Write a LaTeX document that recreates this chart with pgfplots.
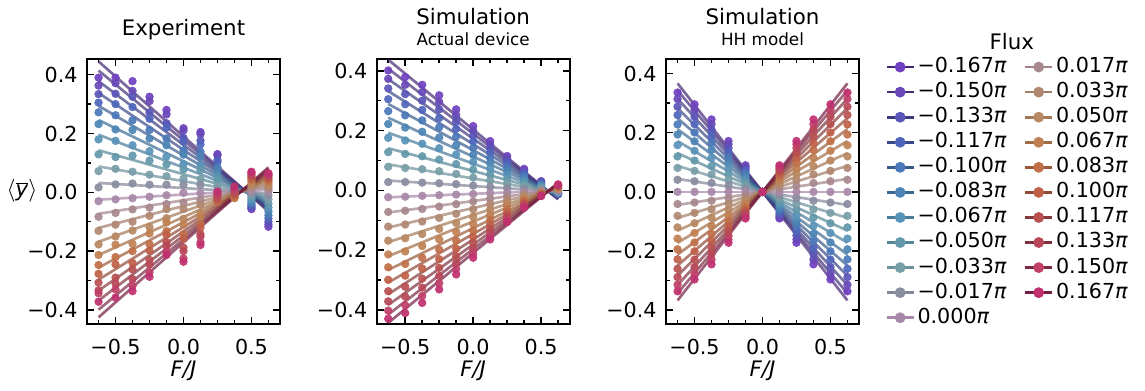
\documentclass[border=0pt]{standalone}
\usepackage{fontspec}
\setmainfont{DejaVu Sans}
\usepackage{pgfplots}
\usepackage{pgfplotstable}
\pgfplotsset{compat=1.18}

\definecolor{mk0}{HTML}{7040C0}
\definecolor{mk1}{HTML}{6848B8}
\definecolor{mk2}{HTML}{5A55B8}
\definecolor{mk3}{HTML}{4F65BC}
\definecolor{mk4}{HTML}{4A78B8}
\definecolor{mk5}{HTML}{4C85B5}
\definecolor{mk6}{HTML}{5893B8}
\definecolor{mk7}{HTML}{6298AA}
\definecolor{mk8}{HTML}{789EA8}
\definecolor{mk9}{HTML}{8A8CA0}
\definecolor{mk10}{HTML}{A888A8}
\definecolor{mk11}{HTML}{A8888F}
\definecolor{mk12}{HTML}{B08872}
\definecolor{mk13}{HTML}{B88862}
\definecolor{mk14}{HTML}{C08052}
\definecolor{mk15}{HTML}{C07048}
\definecolor{mk16}{HTML}{C06048}
\definecolor{mk17}{HTML}{B85050}
\definecolor{mk18}{HTML}{B84858}
\definecolor{mk19}{HTML}{C04068}
\definecolor{mk20}{HTML}{C03070}
\colorlet{ln0}{mk0!60!black}
\colorlet{ln1}{mk1!64!black}
\colorlet{ln2}{mk2!68!black}
\colorlet{ln3}{mk3!72!black}
\colorlet{ln4}{mk4!76!black}
\colorlet{ln5}{mk5!80!black}
\colorlet{ln6}{mk6!84!black}
\colorlet{ln7}{mk7!88!black}
\colorlet{ln8}{mk8!92!black}
\colorlet{ln9}{mk9!96!black}
\colorlet{ln10}{mk10}
\colorlet{ln11}{mk11!96!black}
\colorlet{ln12}{mk12!92!black}
\colorlet{ln13}{mk13!88!black}
\colorlet{ln14}{mk14!84!black}
\colorlet{ln15}{mk15!80!black}
\colorlet{ln16}{mk16!76!black}
\colorlet{ln17}{mk17!72!black}
\colorlet{ln18}{mk18!68!black}
\colorlet{ln19}{mk19!64!black}
\colorlet{ln20}{mk20!60!black}

% Experiment
\pgfplotstableread{
x c0 c1 c2 c3 c4 c5 c6 c7 c8 c9 c10 c11 c12 c13 c14 c15 c16 c17 c18 c19 c20
-0.625 0.390 0.363 0.334 0.305 0.272 0.232 0.180 0.129 0.072 0.017 -0.030 -0.083 -0.131 -0.177 -0.213 -0.247 -0.277 -0.307 -0.333 -0.343 -0.372
-0.5 0.390 0.371 0.335 0.300 0.262 0.214 0.175 0.120 0.080 0.027 -0.024 -0.070 -0.110 -0.150 -0.178 -0.220 -0.245 -0.290 -0.310 -0.330 -0.358
-0.375 0.378 0.345 0.325 0.290 0.245 0.212 0.160 0.125 0.070 0.030 -0.020 -0.058 -0.100 -0.130 -0.175 -0.200 -0.240 -0.262 -0.295 -0.318 -0.336
-0.25 0.325 0.310 0.272 0.250 0.212 0.183 0.140 0.108 0.060 0.026 -0.015 -0.052 -0.080 -0.118 -0.140 -0.176 -0.198 -0.230 -0.245 -0.272 -0.287
-0.125 0.280 0.265 0.235 0.220 0.183 0.160 0.122 0.095 0.055 0.026 -0.010 -0.040 -0.057 -0.088 -0.102 -0.132 -0.145 -0.170 -0.182 -0.203 -0.213
0 0.218 0.210 0.185 0.172 0.143 0.128 0.096 0.078 0.046 0.026 -0.002 -0.035 -0.057 -0.090 -0.110 -0.142 -0.158 -0.188 -0.200 -0.225 -0.236
0.125 0.205 0.198 0.176 0.163 0.138 0.122 0.094 0.076 0.045 0.025 -0.003 -0.026 -0.042 -0.068 -0.082 -0.108 -0.120 -0.142 -0.150 -0.170 -0.179
0.25 0.130 0.126 0.110 0.103 0.085 0.075 0.055 0.043 0.022 0.009 -0.010 -0.012 -0.018 -0.024 -0.030 -0.032 -0.028 -0.020 -0.012 -0.004 0.002
0.375 0.008 0.008 0.007 0.006 0.005 0.004 0.002 0.000 -0.002 -0.005 -0.008 -0.012 -0.015 -0.018 -0.020 -0.016 -0.010 -0.004 0.004 0.012 0.020
0.5 -0.057 -0.053 -0.048 -0.043 -0.037 -0.031 -0.024 -0.017 -0.010 -0.003 0.005 0.013 0.021 0.028 0.036 0.043 0.049 0.055 0.061 0.066 0.070
0.625 -0.117 -0.109 -0.100 -0.089 -0.078 -0.065 -0.052 -0.039 -0.024 -0.010 0.005 0.012 0.019 0.026 0.033 0.040 0.046 0.051 0.057 0.061 0.065
}\tabA
\pgfplotstableread{
x c0 c1 c2 c3 c4 c5 c6 c7 c8 c9 c10 c11 c12 c13 c14 c15 c16 c17 c18 c19 c20
-0.625 0.445 0.414 0.378 0.338 0.294 0.246 0.196 0.143 0.088 0.032 -0.025 -0.073 -0.121 -0.168 -0.213 -0.256 -0.297 -0.334 -0.368 -0.399 -0.425
0.625 -0.065 -0.060 -0.055 -0.049 -0.043 -0.035 -0.028 -0.020 -0.012 -0.003 0.010 0.019 0.028 0.037 0.045 0.053 0.061 0.068 0.074 0.080 0.085
}\linA

% Simulation, actual device
\pgfplotstableread{
x c0 c1 c2 c3 c4 c5 c6 c7 c8 c9 c10 c11 c12 c13 c14 c15 c16 c17 c18 c19 c20
-0.625 0.401 0.373 0.341 0.305 0.265 0.222 0.176 0.128 0.079 0.028 -0.023 -0.072 -0.121 -0.168 -0.214 -0.257 -0.299 -0.337 -0.371 -0.402 -0.429
-0.5 0.379 0.353 0.322 0.288 0.251 0.210 0.167 0.122 0.075 0.028 -0.021 -0.068 -0.114 -0.160 -0.204 -0.246 -0.285 -0.322 -0.355 -0.384 -0.410
-0.375 0.353 0.329 0.300 0.269 0.234 0.196 0.156 0.114 0.071 0.026 -0.018 -0.062 -0.104 -0.146 -0.186 -0.225 -0.261 -0.295 -0.325 -0.353 -0.376
-0.25 0.318 0.296 0.271 0.242 0.211 0.177 0.141 0.103 0.064 0.024 -0.016 -0.054 -0.092 -0.129 -0.164 -0.198 -0.230 -0.259 -0.286 -0.310 -0.331
-0.125 0.271 0.252 0.231 0.206 0.180 0.151 0.120 0.088 0.055 0.021 -0.014 -0.046 -0.078 -0.109 -0.139 -0.168 -0.195 -0.220 -0.243 -0.263 -0.281
0 0.215 0.200 0.183 0.164 0.142 0.119 0.095 0.069 0.043 0.016 -0.012 -0.037 -0.063 -0.088 -0.112 -0.135 -0.156 -0.176 -0.195 -0.211 -0.225
0.125 0.165 0.154 0.140 0.125 0.109 0.091 0.073 0.053 0.033 0.012 -0.009 -0.028 -0.046 -0.064 -0.082 -0.099 -0.114 -0.129 -0.142 -0.154 -0.164
0.25 0.115 0.107 0.098 0.087 0.076 0.064 0.050 0.037 0.022 0.008 -0.007 -0.019 -0.031 -0.042 -0.053 -0.064 -0.074 -0.084 -0.092 -0.099 -0.106
0.375 0.072 0.067 0.061 0.055 0.047 0.040 0.031 0.023 0.014 0.005 -0.005 -0.011 -0.017 -0.024 -0.030 -0.035 -0.041 -0.046 -0.050 -0.054 -0.058
0.5 0.031 0.029 0.026 0.023 0.020 0.017 0.013 0.010 0.006 0.002 -0.002 -0.004 -0.006 -0.008 -0.010 -0.012 -0.014 -0.015 -0.017 -0.018 -0.019
0.625 -0.013 -0.012 -0.011 -0.010 -0.009 -0.008 -0.006 -0.005 -0.003 -0.002 0.000 0.002 0.005 0.007 0.009 0.012 0.014 0.015 0.017 0.019 0.020
}\tabB
\pgfplotstableread{
x c0 c1 c2 c3 c4 c5 c6 c7 c8 c9 c10 c11 c12 c13 c14 c15 c16 c17 c18 c19 c20
-0.625 0.437 0.407 0.372 0.332 0.289 0.243 0.193 0.141 0.087 0.033 -0.023 -0.074 -0.124 -0.173 -0.220 -0.266 -0.308 -0.347 -0.383 -0.415 -0.443
0.625 -0.030 -0.028 -0.026 -0.023 -0.020 -0.017 -0.014 -0.011 -0.007 -0.004 0.000 0.003 0.006 0.009 0.012 0.014 0.017 0.019 0.021 0.023 0.025
}\linB

% Simulation, HH model
\pgfplotstableread{
x c0 c1 c2 c3 c4 c5 c6 c7 c8 c9 c10 c11 c12 c13 c14 c15 c16 c17 c18 c19 c20
-0.625 0.336 0.314 0.288 0.260 0.228 0.194 0.158 0.120 0.081 0.041 0 -0.041 -0.081 -0.120 -0.158 -0.194 -0.228 -0.260 -0.288 -0.314 -0.336
-0.5 0.296 0.277 0.254 0.229 0.201 0.171 0.139 0.106 0.071 0.036 0 -0.036 -0.071 -0.106 -0.139 -0.171 -0.201 -0.229 -0.254 -0.277 -0.296
-0.375 0.245 0.229 0.210 0.189 0.166 0.142 0.115 0.087 0.059 0.030 0 -0.030 -0.059 -0.087 -0.115 -0.142 -0.166 -0.189 -0.210 -0.229 -0.245
-0.25 0.172 0.161 0.148 0.133 0.117 0.100 0.081 0.061 0.041 0.021 0 -0.021 -0.041 -0.061 -0.081 -0.100 -0.117 -0.133 -0.148 -0.161 -0.172
-0.125 0.090 0.084 0.077 0.070 0.061 0.052 0.042 0.032 0.022 0.011 0 -0.011 -0.022 -0.032 -0.042 -0.052 -0.061 -0.070 -0.077 -0.084 -0.090
0 0 0 0 0 0 0 0 0 0 0 0 0 0 0 0 0 0 0 0 0 0
0.125 -0.090 -0.084 -0.077 -0.070 -0.061 -0.052 -0.042 -0.032 -0.022 -0.011 0 0.011 0.022 0.032 0.042 0.052 0.061 0.070 0.077 0.084 0.090
0.25 -0.172 -0.161 -0.148 -0.133 -0.117 -0.100 -0.081 -0.061 -0.041 -0.021 0 0.021 0.041 0.061 0.081 0.100 0.117 0.133 0.148 0.161 0.172
0.375 -0.245 -0.229 -0.210 -0.189 -0.166 -0.142 -0.115 -0.087 -0.059 -0.030 0 0.030 0.059 0.087 0.115 0.142 0.166 0.189 0.210 0.229 0.245
0.5 -0.296 -0.277 -0.254 -0.229 -0.201 -0.171 -0.139 -0.106 -0.071 -0.036 0 0.036 0.071 0.106 0.139 0.171 0.201 0.229 0.254 0.277 0.296
0.625 -0.336 -0.314 -0.288 -0.260 -0.228 -0.194 -0.158 -0.120 -0.081 -0.041 0 0.041 0.081 0.120 0.158 0.194 0.228 0.260 0.288 0.314 0.336
}\tabC
\pgfplotstableread{
x c0 c1 c2 c3 c4 c5 c6 c7 c8 c9 c10 c11 c12 c13 c14 c15 c16 c17 c18 c19 c20
-0.625 0.367 0.343 0.315 0.283 0.249 0.212 0.172 0.131 0.088 0.044 0 -0.044 -0.088 -0.131 -0.172 -0.212 -0.249 -0.283 -0.315 -0.343 -0.367
0.625 -0.367 -0.343 -0.315 -0.283 -0.249 -0.212 -0.172 -0.131 -0.088 -0.044 0 0.044 0.088 0.131 0.172 0.212 0.249 0.283 0.315 0.343 0.367
}\linC

\pgfplotsset{
  panel/.style={
    scale only axis, width=144.75pt, height=198.75pt, anchor=south west,
    xmin=-0.71, xmax=0.71,
    xtick={-0.5,0,0.5}, xticklabels={−0.5,0.0,0.5},
    minor xtick={-0.625,-0.375,-0.25,-0.125,0.125,0.25,0.375,0.625},
    ytick={-0.4,-0.2,0,0.2,0.4}, yticklabels={−0.4,−0.2,0.0,0.2,0.4},
    minor ytick={-0.3,-0.1,0.1,0.3},
    tick align=inside, major tick length=5.25pt, minor tick length=3pt,
    every tick/.style={black, line width=1.1pt},
    axis line style={line width=1.5pt},
    ticklabel style={font=\fontsize{15.5}{18}\selectfont},
    xticklabel style={anchor=base, yshift=-22.9pt},
    yticklabel style={xshift=-3.6pt},
    xlabel={\textit{F/J}},
    xlabel style={at={(axis description cs:0.5,0)}, anchor=base, yshift=-39.5pt, font=\fontsize{16}{19}\selectfont},
    title style={at={(axis description cs:0.5,1)}, anchor=base, font=\fontsize{16}{19}\selectfont},
    clip=true,
  },
  sub/.style={extra description/.code={\node[anchor=base, font=\fontsize{12.6}{15}\selectfont] at ([yshift=9.75pt]axis description cs:0.5,1) {#1};}},
  leg/.style={color=ln#1, line width=2pt, mark=*, mark size=3pt, mark options={draw=mk#1, fill=mk#1, solid}},
}

\newcommand{\drawseries}[2]{%
  \pgfplotsinvokeforeach{0,...,20}{
    \addplot[only marks, mark=*, mark size=2.9pt, mark options={draw=mk##1, fill=mk##1, fill opacity=0.92, draw opacity=0.92}, forget plot] table[x=x, y=c##1] {#1};
    \addplot[no marks, color=ln##1, line width=2pt, opacity=0.7, forget plot] table[x=x, y=c##1] {#2};
  }%
}

\begin{document}
\begin{tikzpicture}
\begin{axis}[panel, at={(65.25pt,49.875pt)}, ymin=-0.446, ymax=0.455,
  title={Experiment}, title style={yshift=11pt},
  ylabel={$\langle\overline{\textit{y}}\rangle$},
  ylabel style={at={(axis description cs:-0.337,0.5)}, rotate=-90, anchor=center, font=\fontsize{16}{19}\selectfont}]
\drawseries{\tabA}{\linA}
\end{axis}

\begin{axis}[panel, at={(282.5pt,49.875pt)}, ymin=-0.445, ymax=0.441,
  title={Simulation}, title style={yshift=19.6pt}, sub={Actual device}]
\drawseries{\tabB}{\linB}
\end{axis}

\begin{axis}[panel, at={(499.5pt,49.875pt)}, ymin=-0.445, ymax=0.451,
  title={Simulation}, title style={yshift=19.6pt}, sub={HH model},
  legend columns=2, legend cell align=left,
  legend image code/.code={\draw[mark repeat=2,mark phase=2,#1] plot coordinates {(0pt,0pt) (10pt,0pt) (20pt,0pt)};},
  legend style={at={(axis description cs:1.136,1.016)}, anchor=north west, draw=none, fill=none, inner sep=0pt,
    font=\fontsize{15.5}{18}\selectfont,
    nodes={inner xsep=2pt, inner ysep=1.9pt, text height=11.6pt, text depth=3.4pt},
    /tikz/every even column/.append style={column sep=11pt}}]
\drawseries{\tabC}{\linC}
\addlegendimage{leg=0}\addlegendentry{−0.167\textit{π}}
\addlegendimage{leg=11}\addlegendentry{0.017\textit{π}}
\addlegendimage{leg=1}\addlegendentry{−0.150\textit{π}}
\addlegendimage{leg=12}\addlegendentry{0.033\textit{π}}
\addlegendimage{leg=2}\addlegendentry{−0.133\textit{π}}
\addlegendimage{leg=13}\addlegendentry{0.050\textit{π}}
\addlegendimage{leg=3}\addlegendentry{−0.117\textit{π}}
\addlegendimage{leg=14}\addlegendentry{0.067\textit{π}}
\addlegendimage{leg=4}\addlegendentry{−0.100\textit{π}}
\addlegendimage{leg=15}\addlegendentry{0.083\textit{π}}
\addlegendimage{leg=5}\addlegendentry{−0.083\textit{π}}
\addlegendimage{leg=16}\addlegendentry{0.100\textit{π}}
\addlegendimage{leg=6}\addlegendentry{−0.067\textit{π}}
\addlegendimage{leg=17}\addlegendentry{0.117\textit{π}}
\addlegendimage{leg=7}\addlegendentry{−0.050\textit{π}}
\addlegendimage{leg=18}\addlegendentry{0.133\textit{π}}
\addlegendimage{leg=8}\addlegendentry{−0.033\textit{π}}
\addlegendimage{leg=19}\addlegendentry{0.150\textit{π}}
\addlegendimage{leg=9}\addlegendentry{−0.017\textit{π}}
\addlegendimage{leg=20}\addlegendentry{0.167\textit{π}}
\addlegendimage{leg=10}\addlegendentry{0.000\textit{π}}
\end{axis}
\node[anchor=base, font=\fontsize{16}{19}\selectfont] at (758.8pt,255pt) {Flux};
\pgfresetboundingbox
\path[use as bounding box] (0,0) rectangle (858.75pt,292.5pt);
\end{tikzpicture}
\end{document}
